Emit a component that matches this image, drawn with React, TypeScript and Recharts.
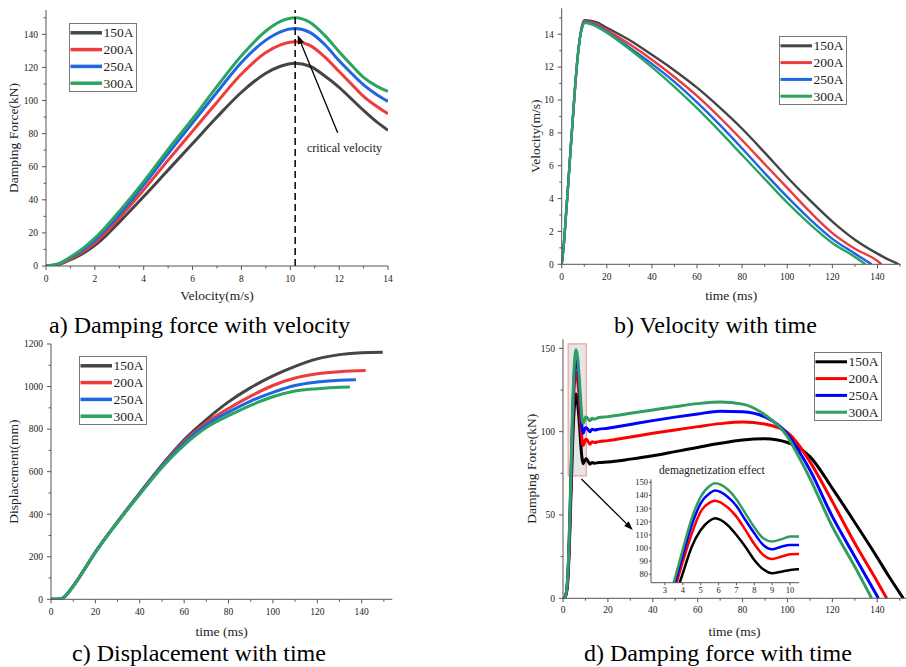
import { Legend, Line, LineChart, ReferenceArea, ReferenceLine, XAxis, YAxis } from 'recharts';

const SERIES = ['150A', '200A', '250A', '300A'];
const COLORS_ABC = ['#454545', '#ef3b3b', '#1f66e0', '#2ba45f'];
const COLORS_D = ['#000000', '#ff0000', '#0000ff', '#2f9e5f'];
const FRAME = '#555';
const FONT = '"Liberation Serif", "DejaVu Serif", serif';

// a) damping force vs velocity
const velA = [0, 0.5, 1, 1.5, 2, 2.5, 3, 4, 5, 6, 7, 8, 9, 9.6, 10.2, 10.8, 11.4, 12, 12.5, 13, 13.5, 14];
const forceA150 = [0, 0.8, 3.8, 7.5, 12.5, 19, 26.5, 42, 58, 74, 90, 105, 116.5, 120.7, 122.5, 120.7, 115, 108, 101, 94, 87.5, 82];
const forceA200 = [0, 1, 4.3, 8.5, 14, 21, 29, 46, 64, 81.5, 99, 116, 129, 133.6, 135.5, 133.3, 126.5, 117.5, 110, 102.5, 96.8, 92];
const forceA250 = [0, 1.2, 5, 9.5, 15.5, 23, 31, 49, 68, 86.5, 105, 123, 136.5, 141.5, 143.5, 141.2, 134, 124, 116.5, 109.5, 104, 99.5];
const forceA300 = [0, 1.3, 5.5, 10.5, 16.8, 24.5, 33, 51, 70.5, 89, 108.5, 127, 142, 147.8, 150, 147.3, 139.5, 129.5, 121.5, 114, 109, 105.5];

// b) velocity vs time
const timeB150 = [0, 1, 2, 3, 4, 5, 6, 7, 8, 9, 10, 15, 20, 30, 40, 50, 60, 70, 80, 90, 100, 110, 120, 130, 140, 145, 149.5];
const velB150 = [0, 1.3, 3.2, 5.1, 7.1, 9, 10.9, 12.5, 13.7, 14.5, 14.85, 14.75, 14.4, 13.65, 12.75, 11.8, 10.75, 9.55, 8.25, 6.8, 5.3, 3.9, 2.6, 1.5, 0.65, 0.28, 0];
const timeB200 = [0, 1, 2, 3, 4, 5, 6, 7, 8, 9, 10, 15, 20, 30, 40, 50, 60, 70, 80, 90, 100, 110, 120, 130, 140, 141.8];
const velB200 = [0, 1.3, 3.2, 5.1, 7.1, 9, 10.9, 12.5, 13.7, 14.45, 14.8, 14.65, 14.25, 13.4, 12.45, 11.4, 10.25, 8.95, 7.55, 6.1, 4.65, 3.2, 1.9, 0.95, 0.2, 0];
const timeB250 = [0, 1, 2, 3, 4, 5, 6, 7, 8, 9, 10, 15, 20, 30, 40, 50, 60, 70, 80, 90, 100, 110, 120, 130, 137.4];
const velB250 = [0, 1.3, 3.2, 5.1, 7.1, 9, 10.9, 12.5, 13.7, 14.4, 14.75, 14.55, 14.15, 13.2, 12.2, 11.1, 9.85, 8.5, 7.05, 5.55, 4.1, 2.75, 1.55, 0.65, 0];
const timeB300 = [0, 1, 2, 3, 4, 5, 6, 7, 8, 9, 10, 15, 20, 30, 40, 50, 60, 70, 80, 90, 100, 110, 120, 130, 134.7];
const velB300 = [0, 1.3, 3.2, 5.1, 7.1, 9, 10.9, 12.5, 13.7, 14.35, 14.7, 14.5, 14.1, 13.1, 12.0, 10.8, 9.5, 8.1, 6.65, 5.2, 3.75, 2.45, 1.3, 0.45, 0];

// c) displacement vs time
const timeC150 = [0, 3, 5, 10, 15, 20, 30, 40, 50, 60, 70, 80, 90, 100, 110, 120, 130, 140, 149.5];
const dispC150 = [0, 0, 4, 62, 140, 222, 365, 500, 632, 750, 845, 928, 995, 1050, 1095, 1130, 1150, 1159, 1161];
const timeC200 = [0, 3, 5, 10, 15, 20, 30, 40, 50, 60, 70, 80, 90, 100, 110, 120, 130, 141.8];
const dispC200 = [0, 0, 4, 62, 140, 222, 364, 498, 628, 742, 830, 897, 955, 1005, 1040, 1060, 1070, 1075];
const timeC250 = [0, 3, 5, 10, 15, 20, 30, 40, 50, 60, 70, 80, 90, 100, 110, 120, 130, 137.4];
const dispC250 = [0, 0, 4, 62, 140, 221, 363, 496, 625, 735, 820, 880, 932, 973, 1005, 1021, 1030, 1032];
const timeC300 = [0, 3, 5, 10, 15, 20, 30, 40, 50, 60, 70, 80, 90, 100, 110, 120, 130, 134.7];
const dispC300 = [0, 0, 4, 61, 139, 220, 362, 494, 620, 725, 807, 863, 912, 952, 979, 990, 997, 998];

// d) damping force vs time
const timeD150 = [0, 1, 2, 2.5, 3, 3.5, 4, 4.5, 5, 5.5, 5.8, 6.5, 7, 7.5, 8, 8.5, 9, 9.5, 10, 10.4, 12, 13, 14, 16, 20, 30, 40, 50, 60, 70, 80, 90, 100, 105, 110, 120, 130, 140, 145, 151.6];
const forceD150 = [0, 1, 8, 20, 38, 60, 80.8, 101, 113.7, 120.8, 122.6, 117.5, 109.9, 101, 90.9, 83.8, 80.8, 82, 83.3, 83.8, 80.5, 81.5, 81, 81.5, 81.8, 83.5, 85.5, 88, 90.5, 93, 95, 95.8, 93.5, 90.5, 85, 66, 45.5, 24.5, 13.5, 0];
const timeD200 = [0, 1, 2, 2.5, 3, 3.5, 4, 4.5, 5, 5.5, 5.8, 6.5, 7, 7.5, 8, 8.5, 9, 9.5, 10, 10.4, 12, 13, 14, 16, 20, 30, 40, 50, 60, 70, 80, 90, 100, 105, 110, 120, 130, 140, 144.2];
const forceD200 = [0, 1, 9, 22, 42, 66, 89.6, 111, 127.7, 134.5, 136, 131, 123.9, 113.8, 103, 94.7, 91.7, 93.4, 95.2, 95.5, 92.5, 94, 93.5, 94, 94.6, 96.8, 99, 101, 103, 104.8, 105.8, 104.5, 99.5, 92, 82, 58, 33, 10, 0];
const timeD250 = [0, 1, 2, 2.5, 3, 3.5, 4, 4.5, 5, 5.5, 5.8, 6.5, 7, 7.5, 8, 8.5, 9, 9.5, 10, 10.4, 12, 13, 14, 16, 20, 30, 40, 50, 60, 70, 80, 90, 100, 105, 110, 120, 130, 140.5];
const forceD250 = [0, 1, 10, 24, 45, 70, 94.7, 117.5, 134, 141.6, 143.7, 139, 132, 121.3, 111.2, 102.3, 99, 101, 102.3, 102.3, 100, 101.5, 101, 101.5, 102, 104.3, 106.6, 108.7, 110.6, 112.3, 112, 108.8, 98.5, 88.5, 77, 49, 25, 0];
const timeD300 = [0, 1, 2, 2.5, 3, 3.5, 4, 4.5, 5, 5.5, 5.8, 6.5, 7, 7.5, 8, 8.5, 9, 9.5, 10, 10.4, 12, 13, 14, 16, 20, 30, 40, 50, 60, 70, 80, 90, 100, 105, 110, 120, 130, 137.5];
const forceD300 = [0, 1, 11, 26, 48, 74, 99, 122.6, 139, 147.2, 149.2, 144.7, 137, 126.4, 115.8, 107.4, 104.9, 106.6, 108.7, 108.8, 106.5, 108, 107.5, 108.5, 109, 111, 113, 115, 116.8, 117.8, 116.5, 110, 97, 85, 72, 43, 19, 0];

// tick lists
const ticksVel = [0, 1, 2, 3, 4, 5, 6, 7, 8, 9, 10, 11, 12, 13, 14];
const ticksForceA = [0, 10, 20, 30, 40, 50, 60, 70, 80, 90, 100, 110, 120, 130, 140, 150];
const ticksTime = [0, 10, 20, 30, 40, 50, 60, 70, 80, 90, 100, 110, 120, 130, 140, 150];
const ticksVelB = [0, 1, 2, 3, 4, 5, 6, 7, 8, 9, 10, 11, 12, 13, 14, 15];
const ticksDisp = [0, 100, 200, 300, 400, 500, 600, 700, 800, 900, 1000, 1100, 1200];
const ticksForceD = [0, 25, 50, 75, 100, 125, 150];
const ticksInsetX = [3, 4, 5, 6, 7, 8, 9, 10];
const ticksInsetY = [80, 90, 100, 110, 120, 130, 140, 150];

const toRows = (xs: number[], ys: number[]) => xs.map((x, i) => ({ x, y: ys[i] }));

const rowsA = [toRows(velA, forceA150), toRows(velA, forceA200), toRows(velA, forceA250), toRows(velA, forceA300)];
const rowsB = [toRows(timeB150, velB150), toRows(timeB200, velB200), toRows(timeB250, velB250), toRows(timeB300, velB300)];
const rowsC = [toRows(timeC150, dispC150), toRows(timeC200, dispC200), toRows(timeC250, dispC250), toRows(timeC300, dispC300)];
const rowsD = [toRows(timeD150, forceD150), toRows(timeD200, forceD200), toRows(timeD250, forceD250), toRows(timeD300, forceD300)];

const isMajor = (v: number, every: number) => Math.abs(v / every - Math.round(v / every)) < 1e-6;

function XTick(props: any) {
  const { x, payload, ay, every, fs = 9.5, gap = 16, len = 4 } = props;
  const v = payload.value;
  const major = isMajor(v, every);
  return (
    <g>
      <line x1={x} x2={x} y1={ay} y2={ay + (major ? len : len * 0.6)} stroke={FRAME} />
      {major && (
        <text x={x} y={ay + gap} textAnchor="middle" fontSize={fs} fill="#222">
          {v}
        </text>
      )}
    </g>
  );
}

function YTick(props: any) {
  const { y, payload, ax, every, fs = 9.5, gap = 8, len = 4 } = props;
  const v = payload.value;
  const major = isMajor(v, every);
  return (
    <g>
      <line x1={ax} x2={ax - (major ? len : len * 0.6)} y1={y} y2={y} stroke={FRAME} />
      {major && (
        <text x={ax - gap} y={y + fs * 0.35} textAnchor="end" fontSize={fs} fill="#222">
          {v}
        </text>
      )}
    </g>
  );
}

function arrowShape(props: any) {
  const { x1, y1, x2, y2 } = props;
  const a = Math.atan2(y2 - y1, x2 - x1);
  const L = 9;
  const W = 3.2;
  const bx = x2 - L * Math.cos(a);
  const by = y2 - L * Math.sin(a);
  const px = -Math.sin(a) * W;
  const py = Math.cos(a) * W;
  return (
    <g>
      <line x1={x1} y1={y1} x2={bx} y2={by} stroke="#000" strokeWidth={1.3} />
      <polygon points={`${x2},${y2} ${bx + px},${by + py} ${bx - px},${by - py}`} fill="#000" />
    </g>
  );
}

function LegendBox({ colors, lw }: { colors: string[]; lw: number }) {
  return (
    <svg width={68} height={69} style={{ display: 'block' }}>
      <rect x={0.5} y={0.5} width={67} height={68} fill="#fff" stroke="#777" />
      {SERIES.map((s, i) => {
        const cy = 9.8 + i * 16.8;
        return (
          <g key={s}>
            <line x1={1.5} x2={33} y1={cy} y2={cy} stroke={colors[i]} strokeWidth={lw} />
            <text x={34.5} y={cy + 4.6} fontSize={13.5} fill="#222">
              {s}
            </text>
          </g>
        );
      })}
    </svg>
  );
}

const frame = (k: string) => [
  <XAxis key={k + 't'} xAxisId="top" orientation="top" type="number" domain={[0, 1]} height={0} tick={false} tickLine={false} axisLine={{ stroke: FRAME }} />,
  <YAxis key={k + 'r'} yAxisId="right" orientation="right" type="number" domain={[0, 1]} width={0} tick={false} tickLine={false} axisLine={{ stroke: FRAME }} />,
];

const lines = (rows: { x: number; y: number }[][], colors: string[], w: number) =>
  SERIES.map((s, i) => (
    <Line key={s} data={rows[i]} dataKey="y" name={s} type="monotone" stroke={colors[i]} strokeWidth={w} dot={false} isAnimationActive={false} />
  ));

const axisTitle = { fontSize: 13.5, fill: '#222' };

export default function App() {
  return (
    <div style={{ position: 'absolute', left: 0, top: 0, width: 906, height: 667, background: '#fff', fontFamily: FONT, overflow: 'hidden' }}>
      {/* a) */}
      <div style={{ position: 'absolute', left: 0, top: 0 }}>
        <LineChart width={420} height={310} margin={{ top: 10, right: 32, bottom: 0, left: 0 }}>
          <XAxis dataKey="x" type="number" domain={[0, 14]} ticks={ticksVel} interval={0} allowDataOverflow height={44} axisLine={{ stroke: FRAME }} tickLine={false}
            tick={<XTick ay={266} every={2} />} label={{ value: 'Velocity(m/s)', position: 'insideBottom', offset: 10, ...axisTitle }} />
          <YAxis type="number" domain={[0, 154.7]} ticks={ticksForceA} interval={0} allowDataOverflow width={46} axisLine={{ stroke: FRAME }} tickLine={false}
            tick={<YTick ax={46} every={20} />} label={{ value: 'Damping Force(kN)', angle: -90, position: 'insideLeft', offset: 13, style: { textAnchor: 'middle' }, ...axisTitle }} />
          {frame('a')}
          {lines(rowsA, COLORS_ABC, 3)}
          <ReferenceLine x={10.2} stroke="#111" strokeWidth={1.6} strokeDasharray="7 4" />
          <ReferenceLine segment={[{ x: 11.94, y: 80.5 }, { x: 10.3, y: 139.6 }]} shape={arrowShape} />
          <Legend layout="vertical" align="center" verticalAlign="middle" wrapperStyle={{ left: 69, top: 23, width: 68, height: 69 }}
            content={() => <LegendBox colors={COLORS_ABC} lw={3.5} />} />
        </LineChart>
      </div>

      {/* b) */}
      <div style={{ position: 'absolute', left: 480, top: 0 }}>
        <LineChart width={426} height={310} margin={{ top: 8.3, right: 5.3, bottom: 0, left: 0 }}>
          <XAxis dataKey="x" type="number" domain={[0, 150.3]} ticks={ticksTime} interval={0} allowDataOverflow height={45.7} axisLine={{ stroke: FRAME }} tickLine={false}
            tick={<XTick ay={264.3} every={20} />} label={{ value: 'time (ms)', position: 'insideBottom', offset: 10, ...axisTitle }} />
          <YAxis type="number" domain={[0, 15.58]} ticks={ticksVelB} interval={0} allowDataOverflow width={81.7} axisLine={{ stroke: FRAME }} tickLine={false}
            tick={<YTick ax={81.7} every={2} />} label={{ value: 'Velocity(m/s)', angle: -90, position: 'insideLeft', offset: 55, style: { textAnchor: 'middle' }, ...axisTitle }} />
          {frame('b')}
          {lines(rowsB, COLORS_ABC, 2.4)}
          <Legend layout="vertical" align="center" verticalAlign="middle" wrapperStyle={{ left: 299.3, top: 36, width: 68, height: 69 }}
            content={() => <LegendBox colors={COLORS_ABC} lw={3} />} />
        </LineChart>
      </div>

      {/* c) */}
      <div style={{ position: 'absolute', left: 0, top: 330 }}>
        <LineChart width={420} height={310} margin={{ top: 14, right: 27.7, bottom: 0, left: 0 }}>
          <XAxis dataKey="x" type="number" domain={[0, 153.8]} ticks={ticksTime} interval={0} allowDataOverflow height={40.7} axisLine={{ stroke: FRAME }} tickLine={false}
            tick={<XTick ay={269.3} every={20} />} label={{ value: 'time (ms)', position: 'insideBottom', offset: 4, ...axisTitle }} />
          <YAxis type="number" domain={[0, 1200]} ticks={ticksDisp} interval={0} allowDataOverflow width={51} axisLine={{ stroke: FRAME }} tickLine={false}
            tick={<YTick ax={51} every={200} />} label={{ value: 'Displacement(mm)', angle: -90, position: 'insideLeft', offset: 13, style: { textAnchor: 'middle' }, ...axisTitle }} />
          {frame('c')}
          {lines(rowsC, COLORS_ABC, 3)}
          <Legend layout="vertical" align="center" verticalAlign="middle" wrapperStyle={{ left: 79.3, top: 26, width: 68, height: 69 }}
            content={() => <LegendBox colors={COLORS_ABC} lw={3.5} />} />
        </LineChart>
      </div>

      {/* d) */}
      <div style={{ position: 'absolute', left: 480, top: 330 }}>
        <LineChart width={426} height={310} margin={{ top: 9.3, right: 0, bottom: 0, left: 0 }}>
          <XAxis dataKey="x" type="number" domain={[0, 152.8]} ticks={ticksTime} interval={0} allowDataOverflow height={41.7} axisLine={{ stroke: FRAME }} tickLine={false}
            tick={<XTick ay={268.3} every={20} gap={15} />} label={{ value: 'time (ms)', position: 'insideBottom', offset: 4, ...axisTitle }} />
          <YAxis type="number" domain={[0, 155.4]} ticks={ticksForceD} interval={0} allowDataOverflow width={83} axisLine={{ stroke: FRAME }} tickLine={false}
            tick={<YTick ax={83} every={50} />} label={{ value: 'Damping Force(kN)', angle: -90, position: 'insideLeft', offset: 51.7, style: { textAnchor: 'middle' }, ...axisTitle }} />
          {frame('d')}
          {lines(rowsD, COLORS_D, 3)}
          <ReferenceArea x1={2.3} x2={10.4} y1={73.4} y2={152.6} fill="#b4b4b4" fillOpacity={0.35} stroke="#f4a0a0" strokeWidth={1.2} />
          <ReferenceLine segment={[{ x: 8.2, y: 71.6 }, { x: 31.1, y: 41 }]} shape={arrowShape} />
          <Legend layout="vertical" align="center" verticalAlign="middle" wrapperStyle={{ left: 334.3, top: 22.3, width: 68, height: 69 }}
            content={() => <LegendBox colors={COLORS_D} lw={3} />} />
        </LineChart>
      </div>

      {/* d) inset */}
      <div style={{ position: 'absolute', left: 621, top: 470 }}>
        <LineChart width={180} height={140} margin={{ top: 9.3, right: 2, bottom: 0, left: 0 }}>
          <XAxis dataKey="x" type="number" domain={[2.22, 10.5]} ticks={ticksInsetX} interval={0} allowDataOverflow height={27.3} axisLine={{ stroke: FRAME }} tickLine={false}
            tick={<XTick ay={112.7} every={1} fs={8.5} gap={10} len={2.5} />} />
          <YAxis type="number" domain={[73.6, 152.3]} ticks={ticksInsetY} interval={0} allowDataOverflow width={30} axisLine={{ stroke: FRAME }} tickLine={false}
            tick={<YTick ax={30} every={10} fs={8.5} gap={3} len={2} />} />
          {frame('i')}
          {lines(rowsD, COLORS_D, 2.5)}
        </LineChart>
      </div>

      <svg width={906} height={667} style={{ position: 'absolute', left: 0, top: 0, pointerEvents: 'none' }}>
        <text x={307} y={152} fontSize={12} fill="#222">critical velocity</text>
        <text x={711.8} y={474} fontSize={11.6} fill="#222" textAnchor="middle">demagnetization effect</text>
        <text x={49} y={333} fontSize={24} fill="#000">a) Damping force with velocity</text>
        <text x={614} y={333} fontSize={24} fill="#000">b) Velocity with time</text>
        <text x={72} y={661} fontSize={24} fill="#000">c) Displacement with time</text>
        <text x={584} y={661} fontSize={24} fill="#000">d) Damping force with time</text>
      </svg>
    </div>
  );
}
